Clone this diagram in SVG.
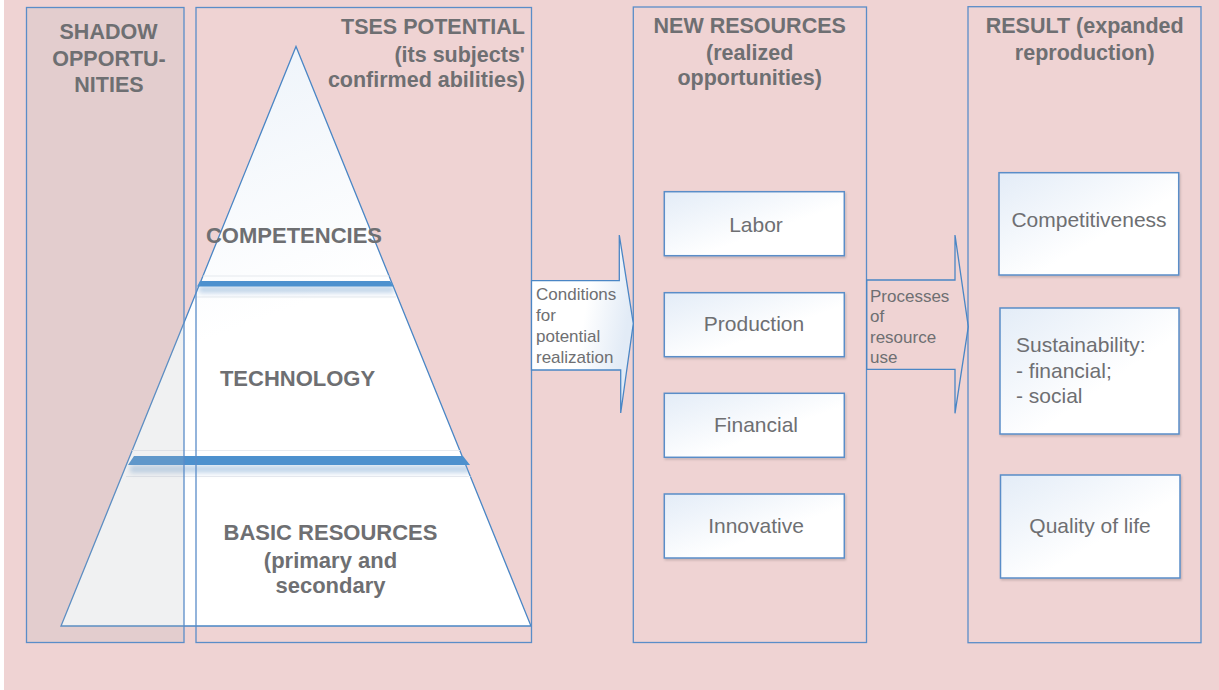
<svg xmlns="http://www.w3.org/2000/svg" width="1219" height="690" viewBox="0 0 1219 690">
<style>
.hdr{font-family:"Liberation Sans",Arial,sans-serif;font-weight:bold;font-size:21.5px;fill:#6E6F72}
.pyr{font-family:"Liberation Sans",Arial,sans-serif;font-weight:bold;font-size:22px;fill:#6E6F72}
.lbl{font-family:"Liberation Sans",Arial,sans-serif;font-size:21px;fill:#6E6F72}
.arr{font-family:"Liberation Sans",Arial,sans-serif;font-size:17px;fill:#6E6F72}
.frame{fill:none;stroke:#5A8DC8;stroke-width:1.3}
.box{fill:url(#boxg);stroke:#5A8DC8;stroke-width:1.5;filter:url(#sh)}
.band{fill:#4D91CE}
</style>
<defs>
<linearGradient id="boxg" x1="0" y1="0" x2="1" y2="1">
<stop offset="0" stop-color="#E3ECF7"/>
<stop offset="0.6" stop-color="#FFFFFF"/>
<stop offset="1" stop-color="#FFFFFF"/>
</linearGradient>
<linearGradient id="pyrg" x1="0" y1="0" x2="0.3" y2="1">
<stop offset="0" stop-color="#EAF1F9"/>
<stop offset="0.55" stop-color="#FFFFFF"/>
<stop offset="1" stop-color="#FFFFFF"/>
</linearGradient>
<linearGradient id="arrg" x1="0" y1="0" x2="1" y2="0.3">
<stop offset="0" stop-color="#FFFFFF"/>
<stop offset="0.6" stop-color="#FFFFFF"/>
<stop offset="1" stop-color="#E2EBF6"/>
</linearGradient>
<clipPath id="pyrclip">
<polygon points="296,46.5 61,626 531,626"/>
</clipPath>
<filter id="sh" x="-10%" y="-10%" width="120%" height="130%">
<feDropShadow dx="1" dy="1.5" stdDeviation="1" flood-color="#000" flood-opacity="0.18"/>
</filter>
<filter id="blur" x="-10%" y="-200%" width="120%" height="500%">
<feGaussianBlur stdDeviation="2.5"/>
</filter>
</defs>

<g id="background">
<rect x="0" y="0" width="1219" height="690" fill="#FFFFFF"/>
<rect x="4" y="0" width="1215" height="690" fill="#EFD3D3"/>
</g>

<g id="tses-potential">
<g id="pyramid">
<polygon points="296,46.5 61,626 531,626" fill="url(#pyrg)" stroke="#4A86C5" stroke-width="1.3"/>
<g clip-path="url(#pyrclip)">
<rect x="196" y="275.5" width="200" height="1" fill="#E6E9EE"/>
<rect x="196" y="296.5" width="200" height="1" fill="#E6E9EE"/>
<rect x="126" y="450" width="346" height="1" fill="#E8EBEF"/>
<rect x="126" y="476" width="346" height="1" fill="#E8EBEF"/>
<polygon points="199,286 394,286 394,293 199,293" fill="#8FB3D8" opacity="0.55" filter="url(#blur)"/>
<polygon points="130,465 470,465 470,473 130,473" fill="#8FB3D8" opacity="0.55" filter="url(#blur)"/>
</g>
<polygon class="band" points="200,281 390,281 394,286.5 197,286.5"/>
<polygon class="band" points="134,456 463,456 470,465 128,465"/>
<text class="pyr" x="294" y="243" text-anchor="middle">COMPETENCIES</text>
<text class="pyr" x="297.5" y="386" text-anchor="middle">TECHNOLOGY</text>
<text class="pyr" x="330.5" y="540" text-anchor="middle">BASIC RESOURCES</text>
<text class="pyr" x="330.5" y="567.5" text-anchor="middle">(primary and</text>
<text class="pyr" x="330.5" y="593" text-anchor="middle">secondary</text>
</g>
<rect class="frame" x="196" y="7.5" width="335.5" height="635"/>
<text class="hdr" x="525" y="34.3" text-anchor="end">TSES POTENTIAL</text>
<text class="hdr" x="525" y="61.5" text-anchor="end">(its subjects'</text>
<text class="hdr" x="525" y="87.3" text-anchor="end">confirmed abilities)</text>
</g>

<g id="shadow-opportunities">
<rect x="26.5" y="7.5" width="157.5" height="635" fill="#B0B4BC" fill-opacity="0.19" stroke="#5A8DC8" stroke-width="1.3"/>
<text class="hdr" x="108.5" y="39" text-anchor="middle">SHADOW</text>
<text class="hdr" x="109" y="65.7" text-anchor="middle">OPPORTU-</text>
<text class="hdr" x="109" y="92.3" text-anchor="middle">NITIES</text>
</g>

<g id="new-resources">
<rect class="frame" x="633.3" y="7" width="233.2" height="635.5"/>
<text class="hdr" x="749.7" y="32.5" text-anchor="middle">NEW RESOURCES</text>
<text class="hdr" x="749.7" y="59.5" text-anchor="middle">(realized</text>
<text class="hdr" x="749.7" y="84.5" text-anchor="middle">opportunities)</text>
<g id="labor"><rect class="box" x="664.3" y="191.7" width="180" height="64"/><text class="lbl" x="756" y="231.5" text-anchor="middle">Labor</text></g>
<g id="production"><rect class="box" x="664.3" y="292.7" width="180" height="64"/><text class="lbl" x="754" y="331" text-anchor="middle">Production</text></g>
<g id="financial"><rect class="box" x="664.3" y="393.3" width="180" height="64"/><text class="lbl" x="756" y="432" text-anchor="middle">Financial</text></g>
<g id="innovative"><rect class="box" x="664.3" y="494" width="180" height="64"/><text class="lbl" x="756" y="532.5" text-anchor="middle">Innovative</text></g>
</g>

<g id="result">
<rect class="frame" x="968" y="6.7" width="233" height="636"/>
<text class="hdr" x="1084.7" y="33" text-anchor="middle">RESULT (expanded</text>
<text class="hdr" x="1084.7" y="59.5" text-anchor="middle">reproduction)</text>
<g id="competitiveness"><rect class="box" x="999" y="172.7" width="179.7" height="102.3"/><text class="lbl" x="1089" y="226.5" text-anchor="middle">Competitiveness</text></g>
<g id="sustainability"><rect class="box" x="1000" y="308" width="179" height="126"/>
<text class="lbl" x="1016" y="351.5">Sustainability:</text>
<text class="lbl" x="1016" y="378">- financial;</text>
<text class="lbl" x="1016" y="403">- social</text></g>
<g id="quality"><rect class="box" x="1000.5" y="475" width="179.5" height="103"/><text class="lbl" x="1090" y="533" text-anchor="middle">Quality of life</text></g>
</g>

<g id="connectors">
<g id="conditions-arrow">
<polygon points="531.5,280.7 619.3,280.7 619.3,235 633.3,323.5 620.7,413 620.7,370 531.5,370" fill="url(#arrg)" stroke="#4A86C5" stroke-width="1.3" stroke-linejoin="miter"/>
<text class="arr" x="536" y="300">Conditions</text>
<text class="arr" x="536" y="320.7">for</text>
<text class="arr" x="536" y="341.7">potential</text>
<text class="arr" x="536" y="362.7">realization</text>
</g>
<g id="processes-arrow">
<polygon points="866.7,280 955,280 955,235 968.3,326.7 955,413.3 955,369.3 866.7,369.3" fill="none" stroke="#4A86C5" stroke-width="1.3"/>
<text class="arr" x="870" y="301.7">Processes</text>
<text class="arr" x="870" y="321.7">of</text>
<text class="arr" x="870" y="342.7">resource</text>
<text class="arr" x="870" y="363.3">use</text>
</g>
</g>
</svg>
